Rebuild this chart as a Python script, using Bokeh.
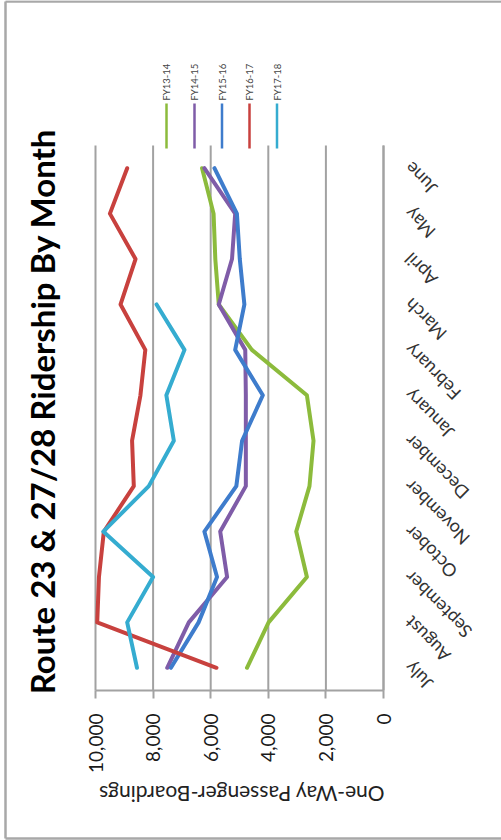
import math
import numpy as np
from bokeh.plotting import figure
from bokeh.models import Range1d, FixedTicker, NumeralTickFormatter, ColumnDataSource
from bokeh.core.properties import value
from bokeh.embed import file_html
from bokeh.resources import INLINE

# ---------------- data ----------------
months = ["July", "August", "September", "October", "November", "December",
          "January", "February", "March", "April", "May", "June"]
series_names = ["FY13-14", "FY14-15", "FY15-16", "FY16-17", "FY17-18"]
fy13_14 = [4740, 3990, 2660, 3030, 2570, 2430, 2660, 4570, 5720, 5840, 5900, 6300]
fy14_15 = [7510, 6760, 5430, 5670, 4780, 4780, 4780, 4800, 5720, 5260, 5150, 6220]
fy15_16 = [7380, 6420, 5780, 6220, 5110, 4910, 4190, 5150, 4830, 4990, 5090, 5870]
fy16_17 = [5800, 9940, 9880, 9710, 8670, 8730, 8440, 8270, 9130, 8610, 9500, 8900]
fy17_18 = [8560, 8900, 8000, 9730, 8150, 7280, 7540, 6910, 7880, np.nan, np.nan, np.nan]
value_ticks = [0, 2000, 4000, 6000, 8000, 10000]
title_text = "Route 23 & 27/28 Ridership By Month"
axis_title = "One-Way Passenger-Boardings"

series_values = [fy13_14, fy14_15, fy15_16, fy16_17, fy17_18]
colors = ["#8cbb3c", "#7f5ca8", "#3e7ccc", "#c8413e", "#35acd0"]

# ---------------- layout ----------------
W, H = 501, 840
CL, CR, CT, CB = 95, 383, 145, 690      # plot area (pixels)
VMAX, VMIN = max(value_ticks), min(value_ticks)
N = len(months)


def dx(px):
    return VMAX - (px - CL) / (CR - CL) * (VMAX - VMIN)


def dy(py):
    return -0.5 + (CB - py) / (CB - CT) * N


p = figure(width=W, height=H, output_backend="svg", toolbar_location=None,
           x_range=Range1d(dx(0), dx(W)), y_range=Range1d(dy(H), dy(0)),
           x_axis_location="below", y_axis_location="right", min_border=0)
p.outline_line_color = None
p.background_fill_color = "white"
p.border_fill_color = "white"
p.grid.visible = False

grey = "#a2a2a2"
month_idx = list(range(N))

# value axis (drawn along the bottom of the plot area)
xa = p.xaxis[0]
xa.fixed_location = -0.5
xa.ticker = FixedTicker(ticks=value_ticks)
xa.bounds = (VMIN, VMAX)
xa.formatter = NumeralTickFormatter(format="0,0")
xa.major_label_orientation = math.pi / 2
xa.major_label_text_font = "Lato"
xa.major_label_text_font_size = "19px"
xa.major_label_text_color = "#1a1a1a"
xa.axis_line_color = grey
xa.axis_line_width = 2
xa.major_tick_line_color = grey
xa.major_tick_line_width = 2
xa.major_tick_out = 8
xa.major_tick_in = 0
xa.minor_tick_line_color = None
xa.major_label_standoff = 15

# category axis line (drawn along the right of the plot area)
ya = p.yaxis[0]
ya.fixed_location = VMIN
ya.ticker = FixedTicker(ticks=[])
ya.bounds = (-0.5, N - 0.5)
ya.axis_line_color = grey
ya.axis_line_width = 2
ya.major_tick_line_color = None
ya.minor_tick_line_color = None

# month labels, rotated, ending at the category axis
p.text(x=[dx(407)] * N, y=[i + 0.06 for i in month_idx], text=months,
       angle=3 * math.pi / 4, text_align="right", text_baseline="middle",
       text_font=value("Lato"), text_font_size="18px", text_color="#333333")

# value-axis title (upside down, as in the reference)
p.text(x=[dx(241)], y=[dy(794)], text=[axis_title], angle=math.pi,
       text_align="center", text_baseline="middle", text_font=value("Lato"),
       text_font_size="21px", text_color="#222222")

# gridlines at the value ticks, across the category extent
p.segment(x0=value_ticks, y0=[-0.5] * len(value_ticks), x1=value_ticks,
          y1=[N - 0.5] * len(value_ticks), line_color=grey, line_width=2)

# series
for name, vals, col in zip(series_names, series_values, colors):
    src = ColumnDataSource(dict(x=vals, y=month_idx, m=months))
    p.line(x="x", y="y", source=src, line_color=col, line_width=4,
           line_join="round", line_cap="round")

# title
p.text(x=[dx(41)], y=[dy(411)], text=[title_text], angle=math.pi / 2,
       text_align="center", text_baseline="middle", text_font=value("Lato"),
       text_font_style="bold", text_font_size="33px", text_color="#000000")

# legend
legend_px = [166, 194, 221.5, 249, 276.5]
lx = [dx(v) for v in legend_px]
p.segment(x0=lx, y0=[dy(148)] * 5, x1=lx, y1=[dy(103)] * 5, line_color=colors,
          line_width=2.5)
p.text(x=lx, y=[dy(100)] * 5, text=series_names, angle=math.pi / 2,
       text_align="left", text_baseline="middle", text_font=value("Lato"),
       text_font_size="9.5px", text_color="#444444")

# chart border (left, top, bottom)
p.segment(x0=[dx(5), dx(5), dx(5)], y0=[dy(1), dy(1), dy(838)],
          x1=[dx(5), dx(W), dx(W)], y1=[dy(838), dy(1), dy(838)],
          line_color="#a8a8a8", line_width=2.5)

open("out.html", "w").write(file_html(p, INLINE))
